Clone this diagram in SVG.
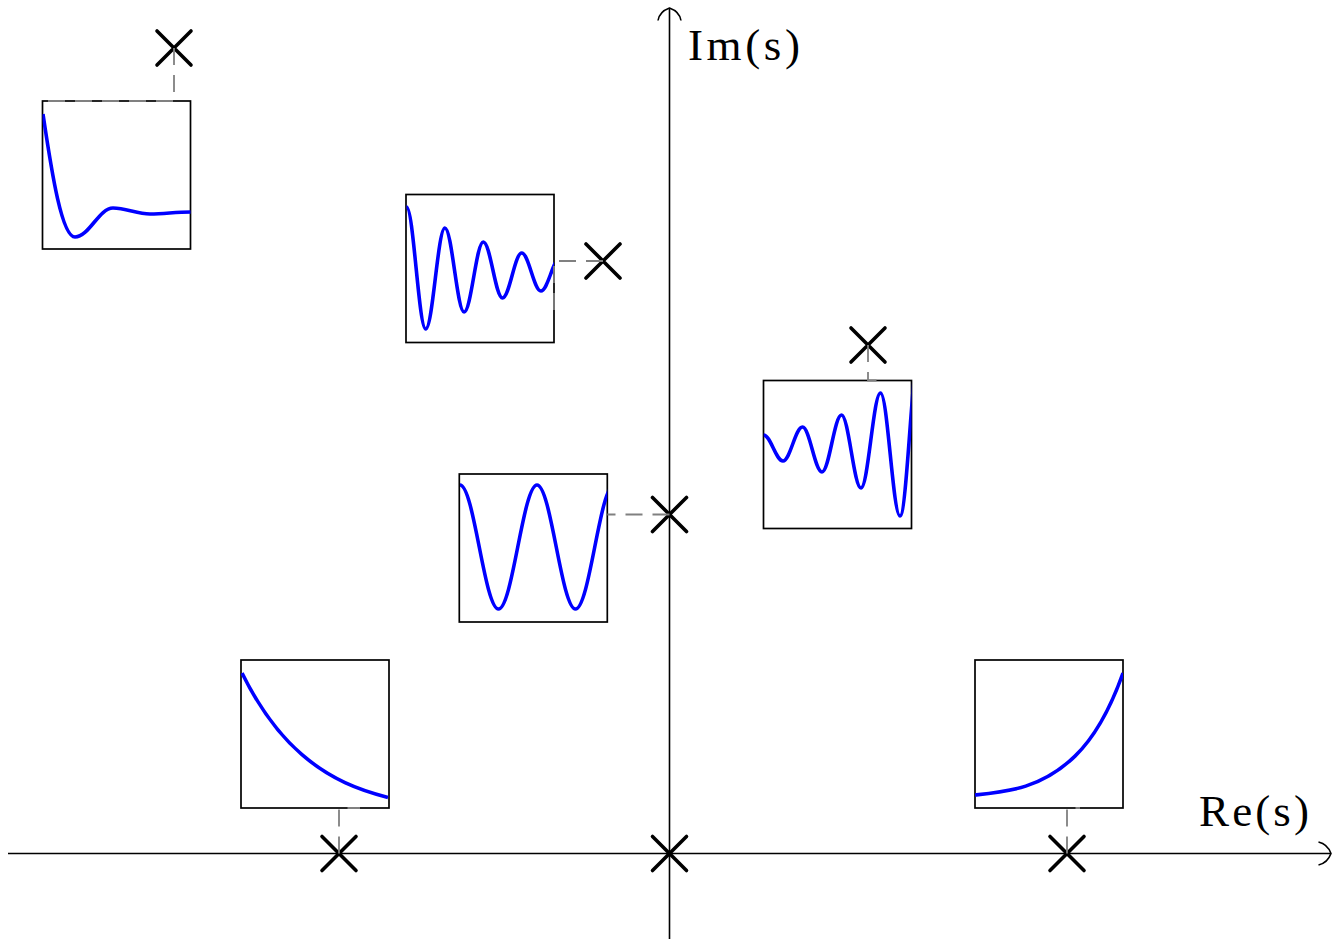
<svg xmlns="http://www.w3.org/2000/svg" width="1333" height="939" viewBox="0 0 1333 939">
<style>
.axis{stroke:#000;stroke-width:1.6;fill:none}
.box{stroke:#000;stroke-width:1.7;fill:#fff}
.curve{stroke:#0000ff;stroke-width:3.6;fill:none;stroke-linejoin:round}
.pole{stroke:#000;stroke-width:3.6;stroke-linecap:round;fill:none}
.dash{stroke:#808080;stroke-width:1.8;fill:none;stroke-dasharray:17 10}
.lbl{font-family:"Liberation Serif","Times New Roman",serif;font-size:45px;fill:#000}
</style>
<defs>
<clipPath id="c1"><rect x="42.5" y="101" width="148" height="148"/></clipPath>
<clipPath id="c2"><rect x="406" y="194.5" width="148" height="148"/></clipPath>
<clipPath id="c3"><rect x="459.3" y="474" width="148" height="148"/></clipPath>
<clipPath id="c4"><rect x="763.5" y="380.5" width="148" height="148"/></clipPath>
<clipPath id="c5"><rect x="241" y="660" width="148" height="148"/></clipPath>
<clipPath id="c6"><rect x="975" y="660" width="148" height="148"/></clipPath>
<g id="pm"><path d="M-17,-17L17,17M-17,17L17,-17"/></g>
</defs>
<rect width="1333" height="939" fill="#fff"/>
<g id="axes">
<path class="axis" d="M8,853.5H1330.5"/>
<path class="axis" d="M669.5,939V8"/>
<path class="axis" d="M658,20.5C659,14 664,10 669.5,8C675,10 680,14 681,20.5"/>
<path class="axis" d="M1318.5,842C1325,843.5 1329,848 1331,853.5C1329,859 1325,863.5 1318.5,865"/>
<text class="lbl" x="688" y="60" textLength="112" lengthAdjust="spacing">Im(s)</text>
<text class="lbl" x="1199" y="826" textLength="110" lengthAdjust="spacing">Re(s)</text>
</g>
<g id="box1">
<rect class="box" x="42.5" y="101" width="148" height="148"/>
<path class="curve" clip-path="url(#c1)" d="M43,114C52,175 62,237 75,237C89,237 99,208 113,208C126,208 137,214 150,214C165,214 175,212 192,212"/>
</g>
<g id="box2">
<rect class="box" x="406" y="194.5" width="148" height="148"/>
<path class="curve" clip-path="url(#c2)" d="M406.5,207C413.5,207 418.7,329 425.7,329C432.7,329 437.9,228 444.9,228C451.9,228 457.1,312 464.1,312C471.1,312 476.3,242 483.3,242C490.3,242 495.5,298 502.5,298C509.5,298 514.7,253 521.7,253C528.7,253 533.9,291 540.9,291C547.9,291 553.1,258 560.1,258"/>
</g>
<g id="box3">
<rect class="box" x="459.3" y="474" width="148" height="148"/>
<path class="curve" clip-path="url(#c3)" d="M460,485C474,485 484.5,609 498.5,609C512.5,609 523,485 537,485C551,485 561.5,609 575.5,609C589.5,609 600,485 614,485"/>
</g>
<g id="box4">
<rect class="box" x="763.5" y="380.5" width="148" height="148"/>
<path class="curve" clip-path="url(#c4)" d="M763.5,435C770.6,435 775.9,461 783,461C790.1,461 795.4,427 802.5,427C809.6,427 814.9,472 822,472C829.1,472 834.4,415 841.5,415C848.6,415 853.9,488 861,488C868.1,488 873.4,393 880.5,393C887.6,393 892.9,516 900,516C907.1,516 912.4,349 919.5,349"/>
</g>
<g id="box5">
<rect class="box" x="241" y="660" width="148" height="148"/>
<path class="curve" clip-path="url(#c5)" d="M242,673C262,713.6 282,737.5 302,754.7C330.7,779.4 359.3,790.2 388,797.4"/>
</g>
<g id="box6">
<rect class="box" x="975" y="660" width="148" height="148"/>
<path class="curve" clip-path="url(#c6)" d="M975,795C1008.3,791.5 1041.7,788.4 1075,756.1C1091,740.6 1107,718.1 1123,673"/>
</g>
<g id="poles">
<use href="#pm" class="pole" x="174" y="48"/>
<use href="#pm" class="pole" x="603" y="261"/>
<use href="#pm" class="pole" x="669.5" y="514.5"/>
<use href="#pm" class="pole" x="868" y="345"/>
<use href="#pm" class="pole" x="339" y="853.5"/>
<use href="#pm" class="pole" x="1067" y="853.5"/>
<use href="#pm" class="pole" x="669.5" y="853.5"/>
</g>
<g id="connectors">
<path class="dash" d="M174,48V101H42.5"/>
<path class="dash" d="M603,261H554V311"/>
<path class="dash" d="M669.5,514.5H607.3"/>
<path class="dash" d="M868,345V380.5H877"/>
<path class="dash" d="M339,853.5V808H360"/>
<path class="dash" d="M1067,853.5V808H1080"/>
</g>
</svg>
